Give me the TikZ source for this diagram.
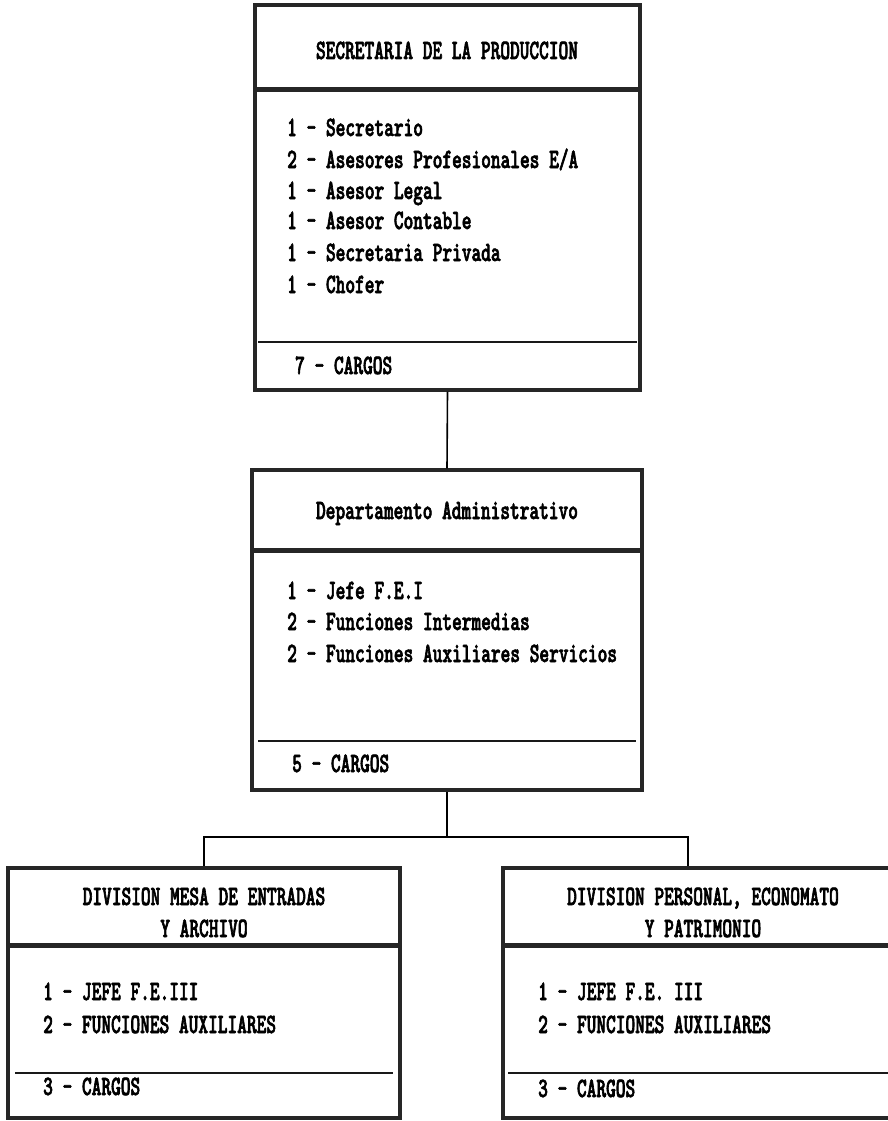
\documentclass[tikz,border=0pt]{standalone}
\usepackage{fontspec}
\newfontfamily\orgfont[FakeStretch=0.66,FakeBold=2.2]{lmmonolt10-bold.otf}

\tikzset{
  orgbox/.style={draw=black!85, line width=3.2pt, inner sep=0pt},
  bandline/.style={black!85, line width=5pt},
  sumline/.style={black!90, line width=1.5pt},
  link/.style={black, line width=1.6pt},
  title/.style={font=\orgfont\fontsize{28}{30}\selectfont, anchor=base, inner sep=0pt},
  item/.style={font=\orgfont\fontsize{28}{30}\selectfont, anchor=base west, inner sep=0pt}
}

\begin{document}
\begin{tikzpicture}[x=1pt,y=-1pt]
        \useasboundingbox (0,0) rectangle (888,1121);
        % boxes
        \node[orgbox, minimum width=385pt, minimum height=385pt] (sec) at (447.5,197.5) {};
        \node[orgbox, minimum width=390pt, minimum height=320pt] (dep) at (447,630) {};
        \node[orgbox, minimum width=392pt, minimum height=250pt] (mesa) at (204,993) {};
        \node[orgbox, minimum width=400pt, minimum height=250pt] (pers) at (703,993) {};
        % title bands and totals
        \draw[bandline] (sec.west |- 0,90) -- (sec.east |- 0,90);
        \draw[sumline] (258,342) -- (637,342);
        \draw[bandline] (dep.west |- 0,550) -- (dep.east |- 0,550);
        \draw[sumline] (258,741) -- (636,741);
        \draw[bandline] (mesa.west |- 0,945) -- (mesa.east |- 0,945);
        \draw[sumline] (15,1073) -- (393,1073);
        \draw[bandline] (pers.west |- 0,945) -- (pers.east |- 0,945);
        \draw[sumline] (508,1073) -- (pers.east |- 0,1073);
        % secretaria
        \node[title] at (447,59) {SECRETARIA DE LA PRODUCCION};
        \node[item] at (287,136) {1 - Secretario};
        \node[item] at (287,168) {2 - Asesores Profesionales E/A};
        \node[item] at (287,199) {1 - Asesor Legal};
        \node[item] at (287,229) {1 - Asesor Contable};
        \node[item] at (287,261) {1 - Secretaria Privada};
        \node[item] at (287,293) {1 - Chofer};
        \node[item] at (295,374) {7 - CARGOS};
        % departamento
        \node[title] at (447,519) {Departamento Administrativo};
        \node[item] at (287,599) {1 - Jefe F.E.I};
        \node[item] at (287,630) {2 - Funciones Intermedias};
        \node[item] at (287,662) {2 - Funciones Auxiliares Servicios};
        \node[item] at (292,772) {5 - CARGOS};
        % divisiones
        \node[title] at (204,905) {DIVISION MESA DE ENTRADAS};
        \node[title] at (204,937) {Y ARCHIVO};
        \node[item] at (43,1000) {1 - JEFE F.E.III};
        \node[item] at (43,1033) {2 - FUNCIONES AUXILIARES};
        \node[item] at (43,1095) {3 - CARGOS};
        \node[title] at (703,905) {DIVISION PERSONAL, ECONOMATO};
        \node[title] at (703,937) {Y PATRIMONIO};
        \node[item] at (538,1000) {1 - JEFE F.E. III};
        \node[item] at (538,1033) {2 - FUNCIONES AUXILIARES};
        \node[item] at (538,1097) {3 - CARGOS};
        % connectors
        \coordinate (split) at (447,837);
        \draw[link] (sec.south) -- (dep.north);
        \draw[link] (dep.south) -- (split);
        \draw[link] (split) -| (mesa.north);
        \draw[link] (split) -| ([xshift=-15pt]pers.north);
\end{tikzpicture}
\end{document}
